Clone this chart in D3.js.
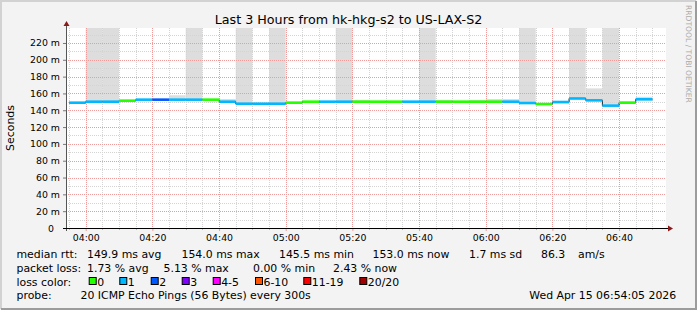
<!DOCTYPE html>
<html>
<head>
<meta charset="utf-8">
<script src="https://cdn.jsdelivr.net/npm/d3@7"></script>
<style>
  body { margin: 0; background: #f3f3f3; }
  svg { display: block; font-family: "DejaVu Sans", sans-serif; }
</style>
</head>
<body>
<script>
// end time of each 5 minute step (300s pings)
var times = ["04:00","04:05","04:10","04:15","04:20","04:25","04:30","04:35","04:40","04:45",
             "04:50","04:55","05:00","05:05","05:10","05:15","05:20","05:25","05:30","05:35",
             "05:40","05:45","05:50","05:55","06:00","06:05","06:10","06:15","06:20","06:25",
             "06:30","06:35","06:40","06:45","06:50"];
// median rtt, ms
var median = [149.0,150.2,150.2,151.4,152.6,152.6,152.6,152.6,152.6,150.2,
              147.8,147.8,147.8,149.0,150.2,150.2,150.2,150.2,150.2,150.2,
              150.2,150.2,150.2,150.2,150.2,150.2,150.2,148.6,147.4,149.8,
              154.0,151.8,145.5,149.0,153.0];
// loss bucket per step (index into lossColors)
var lossIdx = [1,1,1,0,1,2,1,1,0,1,
               1,1,1,0,0,1,1,0,0,0,
               1,1,0,0,0,0,1,1,0,1,
               1,1,1,0,1];
// smoke (ping spread), ms
var smokeHi = [149.5,400,400,152,153,153,157.8,400,153,153.4,
               400,148.5,400,150,151,151,400,152,151,151,
               151,400,152,151,152,153.4,153.4,400,148,150.5,
               400,166,400,150.5,156];
var smokeLo = [148,149,149,150,151.5,151.5,151.5,151.5,151.5,149,
               147,147,147,148,149,149,149,149,149,149,
               149,149,149,149,149,149,149,147.5,146.5,148,
               153,150.8,144.5,148,152];

var lossColors = ["#26ff00","#00b8ff","#0059ff","#7e00ff","#ff00ff","#ff5500","#ff0000","#a10000"];
var lossLabels = ["0","1","2","3","4-5","6-10","11-19","20/20"];
var yTicks = [0,20,40,60,80,100,120,140,160,180,200,220];

var W = 697, H = 310;
var pLeft = 66, pRight = 666, pTop = 28, pBottom = 228;

var parse = d3.timeParse("%H:%M:%S");
var t0 = parse("03:54:05"), t1 = parse("06:54:05");
var x = d3.scaleTime().domain([t0, t1]).range([pLeft, pRight]);
var y = d3.scaleLinear().domain([0, 237.8]).range([pBottom, pTop]);

var steps = times.map(function(t, i) {
  var end = parse(t + ":00");
  var start = d3.timeMinute.offset(end, -5);
  if (start < t0) start = t0;
  return {start: start, end: end, v: median[i], loss: lossIdx[i], hi: smokeHi[i], lo: smokeLo[i]};
});

var svg = d3.select("body").append("svg").attr("width", W).attr("height", H);

// frame
svg.append("rect").attr("width", W).attr("height", H).attr("fill", "#f3f3f3");
svg.append("path").attr("d", "M1,309 V1 H696").attr("fill", "none").attr("stroke", "#d2d2d2").attr("stroke-width", 2);
svg.append("path").attr("d", "M1,309 H696 V1").attr("fill", "none").attr("stroke", "#9c9c9c").attr("stroke-width", 2);

// canvas
svg.append("rect").attr("x", pLeft).attr("y", pTop).attr("width", pRight - pLeft).attr("height", pBottom - pTop).attr("fill", "#fff");

svg.append("clipPath").attr("id", "plot").append("rect")
  .attr("x", pLeft).attr("y", pTop).attr("width", pRight - pLeft).attr("height", pBottom - pTop);

// smoke
svg.append("g").attr("clip-path", "url(#plot)").selectAll("rect").data(steps).enter().append("rect")
  .attr("x", function(d) { return x(d.start); })
  .attr("width", function(d) { return x(d.end) - x(d.start); })
  .attr("y", function(d) { return y(d.hi); })
  .attr("height", function(d) { return y(d.lo) - y(d.hi); })
  .attr("fill", "#dddddd");

// grid
var grid = svg.append("g").attr("shape-rendering", "crispEdges").attr("stroke-dasharray", "1,1");
var minorX = x.ticks(d3.timeMinute.every(5)).filter(function(d) { return d.getMinutes() % 20 != 0; });
var majorX = x.ticks(d3.timeMinute.every(20));
var minorY = d3.range(10, 238, 20);
grid.selectAll(".mx").data(minorX).enter().append("line")
  .attr("x1", function(d) { return Math.round(x(d)) + 0.5; }).attr("x2", function(d) { return Math.round(x(d)) + 0.5; })
  .attr("y1", pTop).attr("y2", pBottom).attr("stroke", "#d4d4d4");
grid.selectAll(".my").data(minorY).enter().append("line")
  .attr("x1", pLeft).attr("x2", pRight)
  .attr("y1", function(d) { return Math.round(y(d)) + 0.5; }).attr("y2", function(d) { return Math.round(y(d)) + 0.5; })
  .attr("stroke", "#d4d4d4");
grid.selectAll(".Mx").data(majorX).enter().append("line")
  .attr("x1", function(d) { return Math.round(x(d)) + 0.5; }).attr("x2", function(d) { return Math.round(x(d)) + 0.5; })
  .attr("y1", pTop).attr("y2", pBottom).attr("stroke", "#f09a9a");
grid.selectAll(".My").data(yTicks.slice(1)).enter().append("line")
  .attr("x1", pLeft).attr("x2", pRight)
  .attr("y1", function(d) { return Math.round(y(d)) + 0.5; }).attr("y2", function(d) { return Math.round(y(d)) + 0.5; })
  .attr("stroke", "#f09a9a");

// median: thin dark step line, then loss coloured segments
var pts = [];
steps.forEach(function(d) { pts.push([x(d.start), y(d.v)], [x(d.end), y(d.v)]); });
svg.append("path").attr("d", d3.line()(pts)).attr("fill", "none").attr("stroke", "#202020").attr("stroke-width", 1);
svg.append("g").selectAll("line").data(steps).enter().append("line")
  .attr("x1", function(d) { return x(d.start); })
  .attr("x2", function(d) { return x(d.end); })
  .attr("y1", function(d) { return y(d.v); })
  .attr("y2", function(d) { return y(d.v); })
  .attr("stroke", function(d) { return lossColors[d.loss]; })
  .attr("stroke-width", 2.6);

// axes
var yAxis = svg.append("g").attr("transform", "translate(" + pLeft + ",0)")
  .call(d3.axisLeft(y).tickValues(yTicks).tickSize(3).tickPadding(3)
    .tickFormat(function(d) { return d === 0 ? "0" : d + " m"; }));
yAxis.select(".domain").remove();
yAxis.selectAll("line").attr("stroke", "#777");
yAxis.selectAll("text").attr("font-family", "DejaVu Sans").attr("font-size", "9.4px").attr("fill", "#000")
  .attr("dx", function(d) { return d === 0 ? -6 : 0; });

var xAxis = svg.append("g").attr("transform", "translate(0," + pBottom + ")")
  .call(d3.axisBottom(x).ticks(d3.timeMinute.every(20)).tickSize(3).tickPadding(3)
    .tickFormat(d3.timeFormat("%H:%M")));
xAxis.select(".domain").remove();
xAxis.selectAll("line").attr("stroke", "#f09a9a");
xAxis.selectAll("text").attr("font-family", "DejaVu Sans").attr("font-size", "9.4px").attr("fill", "#000");
svg.append("g").selectAll("line").data(minorX).enter().append("line")
  .attr("x1", function(d) { return Math.round(x(d)) + 0.5; }).attr("x2", function(d) { return Math.round(x(d)) + 0.5; })
  .attr("y1", pBottom).attr("y2", pBottom + 2).attr("stroke", "#bbb");

svg.append("line").attr("x1", pLeft + 0.5).attr("x2", pLeft + 0.5).attr("y1", pBottom + 3).attr("y2", pTop - 3)
  .attr("stroke", "#555");
svg.append("line").attr("x1", pLeft - 3).attr("x2", pRight + 3).attr("y1", pBottom + 0.5).attr("y2", pBottom + 0.5)
  .attr("stroke", "#000");
svg.append("path").attr("d", "M" + (pLeft + 0.5) + "," + (pTop - 7) + " l3,5 h-6 z").attr("fill", "#8b1a1a");
svg.append("path").attr("d", "M" + (pRight + 7) + "," + (pBottom + 0.5) + " l-5,-3 v6 z").attr("fill", "#8b1a1a");

// titles
svg.append("text").attr("x", 348.5).attr("y", 24).attr("text-anchor", "middle")
  .attr("font-size", "12.7px").text("Last 3 Hours from hk-hkg-s2 to US-LAX-S2");
svg.append("text").attr("transform", "translate(14,128) rotate(-90)").attr("text-anchor", "middle")
  .attr("font-size", "10.9px").text("Seconds");
svg.append("text").attr("transform", "translate(685.5,5) rotate(90)").attr("font-size", "7.6px")
  .attr("fill", "#acacac").text("RRDTOOL / TOBI OETIKER");

// legend
var leg = svg.append("g").attr("font-size", "10.9px").attr("fill", "#000");
function txt(px, py, s) { leg.append("text").attr("x", px).attr("y", py).text(s); }
txt(16.5, 258, "median rtt:");
txt(87, 258, "149.9 ms avg");
txt(181.5, 258, "154.0 ms max");
txt(279, 258, "145.5 ms min");
txt(372.5, 258, "153.0 ms now");
txt(469, 258, "1.7 ms sd");
txt(541, 258, "86.3");
txt(578, 258, "am/s");
txt(16.5, 271.5, "packet loss:");
txt(87, 271.5, "1.73 % avg");
txt(163.5, 271.5, "5.13 % max");
txt(253, 271.5, "0.00 % min");
txt(333, 271.5, "2.43 % now");
txt(16.5, 285.5, "loss color:");
var swX = [88.7, 119.3, 150.7, 181.7, 212.7, 255, 303.3, 359.3];
lossLabels.forEach(function(l, i) {
  leg.append("rect").attr("x", swX[i] + 0.5).attr("y", 277.5).attr("width", 7).attr("height", 7)
    .attr("fill", lossColors[i]).attr("stroke", "#000").attr("stroke-width", 1);
  txt(swX[i] + 8.5, 285.5, l);
});
txt(16.5, 299, "probe:");
txt(80.5, 299, "20 ICMP Echo Pings (56 Bytes) every 300s");
txt(529.3, 299, "Wed Apr 15 06:54:05 2026");
</script>
</body>
</html>
